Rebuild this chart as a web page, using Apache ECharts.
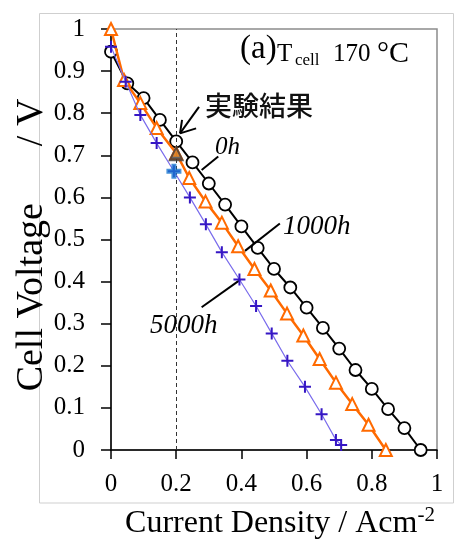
<!DOCTYPE html>
<html style="height: 100%">
<head>
    <meta charset="utf-8">
    <title>Cell Voltage</title>
</head>
<body style="height: 100%; margin: 0;">
<div id="container" style="width: 455px; height: 539px"></div>
<script type="text/javascript" src="https://cdn.jsdelivr.net/npm/echarts@6/dist/echarts.min.js"></script>
<script type="text/javascript">

    // 0h (black circles)
    var h0X = [0, 0.05, 0.1, 0.15, 0.2, 0.25, 0.3, 0.35, 0.4, 0.45, 0.5, 0.55, 0.6, 0.65, 0.7, 0.75, 0.8, 0.85, 0.9, 0.95];
    var h0Y = [0.946, 0.871, 0.836, 0.784, 0.733, 0.683, 0.633, 0.583, 0.531, 0.48, 0.43, 0.386, 0.338, 0.29, 0.241, 0.19, 0.145, 0.097, 0.052, 0.0];
    // 1000h (orange triangles)
    var h1000X = [0, 0.04, 0.09, 0.14, 0.2, 0.24, 0.29, 0.34, 0.39, 0.44, 0.49, 0.54, 0.59, 0.64, 0.69, 0.74, 0.79, 0.843];
    var h1000Y = [1.0, 0.879, 0.824, 0.765, 0.705, 0.646, 0.59, 0.54, 0.484, 0.43, 0.379, 0.324, 0.272, 0.216, 0.16, 0.109, 0.06, 0.0];
    // 5000h (blue crosses)
    var h5000X = [0, 0.045, 0.09, 0.14, 0.193, 0.242, 0.291, 0.34, 0.394, 0.445, 0.493, 0.541, 0.595, 0.646, 0.69, 0.706];
    var h5000Y = [0.958, 0.875, 0.796, 0.729, 0.662, 0.6, 0.536, 0.47, 0.405, 0.342, 0.277, 0.212, 0.15, 0.085, 0.024, 0.012];
    // highlighted experimental points
    var expTri = [0.2, 0.705];
    var expPlus = [0.193, 0.662];
    var refX = 0.2;

    var xTicks = [0, 0.2, 0.4, 0.6, 0.8, 1];
    var yTicks = [0, 0.1, 0.2, 0.3, 0.4, 0.5, 0.6, 0.7, 0.8, 0.9, 1];

    function pairs(xs, ys) {
        var out = [];
        for (var i = 0; i < xs.length; i++) {
            out.push([xs[i], ys[i]]);
        }
        return out;
    }

    var serif = "'Liberation Serif', 'DejaVu Serif', serif";
    var plusPath = 'path://M5,0H7V5H12V7H7V12H5V7H0V5H5Z';
    var bigPlus = 'path://M4,0H8V4H12V8H8V12H4V8H0V4H4Z';

    var dom = document.getElementById("container");
    var myChart = echarts.init(dom);

    function seg(a, b) {
        return [{coord: a}, {coord: b}];
    }

    var option = {
        backgroundColor: '#fff',
        animation: false,
        grid: {
            left: 111,
            right: 18,
            top: 29,
            bottom: 89,
            outerBoundsMode: 'none',
            containLabel: false,
            show: true,
            borderColor: '#8c8c8c',
            borderWidth: 1.5
        },
        xAxis: {
            type: 'value',
            min: xTicks[0],
            max: xTicks[xTicks.length - 1],
            interval: 0.2,
            name: 'Current Density / Acm{sup|-2}',
            nameLocation: 'middle',
            nameGap: 55,
            nameTextStyle: {
                fontFamily: serif,
                fontSize: 32,
                color: '#000',
                padding: [0, 0, 0, 12],
                rich: {
                    sup: {fontFamily: serif, fontSize: 21, color: '#000', verticalAlign: 'top', padding: [0, 0, 16, 0]}
                }
            },
            axisLine: {lineStyle: {color: '#000', width: 1.5}},
            axisTick: {length: 9, lineStyle: {color: '#000', width: 1.5}},
            axisLabel: {fontFamily: serif, fontSize: 25, color: '#000', margin: 22},
            splitLine: {show: false}
        },
        yAxis: {
            type: 'value',
            min: yTicks[0],
            max: yTicks[yTicks.length - 1],
            interval: 0.1,
            axisLine: {lineStyle: {color: '#000', width: 1.5}},
            axisTick: {length: 10, lineStyle: {color: '#000', width: 1.5}},
            axisLabel: {fontFamily: serif, fontSize: 25, color: '#000', margin: 26},
            splitLine: {show: false}
        },
        series: [
            {
                name: '0h',
                type: 'line',
                data: pairs(h0X, h0Y),
                symbol: 'circle',
                symbolSize: 12,
                lineStyle: {color: '#000', width: 2},
                itemStyle: {color: '#fff', borderColor: '#000', borderWidth: 1.8},
                markLine: {
                    silent: true,
                    symbol: 'none',
                    label: {show: false},
                    lineStyle: {color: '#000', width: 2, type: 'solid'},
                    data: [
                        seg([0.278, 0.665], [0.329, 0.697]),
                        seg([0.411, 0.473], [0.518, 0.538]),
                        seg([0.278, 0.339], [0.396, 0.404]),
                        seg([0.2117, 0.752], [0.27, 0.815]),
                        seg([0.2117, 0.752], [0.218, 0.784]),
                        seg([0.2117, 0.752], [0.261, 0.764])
                    ]
                },
                z: 3
            },
            {
                name: '1000h',
                type: 'line',
                data: pairs(h1000X, h1000Y),
                symbol: 'triangle',
                symbolSize: 12,
                lineStyle: {color: '#ff6a00', width: 2.5},
                itemStyle: {color: '#fff', borderColor: '#ff6a00', borderWidth: 2},
                z: 4
            },
            {
                name: '5000h',
                type: 'line',
                data: pairs(h5000X, h5000Y),
                symbol: plusPath,
                symbolSize: 12,
                lineStyle: {color: '#7a6cec', width: 1.2},
                itemStyle: {color: '#3516c4', borderWidth: 0},
                markLine: {
                    silent: true,
                    symbol: 'none',
                    label: {show: false},
                    lineStyle: {color: '#333', width: 1, type: [4, 3]},
                    data: [{xAxis: refX}]
                },
                z: 5
            },
            {
                type: 'scatter',
                data: [expTri],
                symbol: 'triangle',
                symbolSize: 16,
                itemStyle: {color: '#3f3f3f'},
                z: 6
            },
            {
                type: 'scatter',
                data: [expTri],
                symbol: 'triangle',
                symbolSize: 7,
                itemStyle: {color: '#ff8c1a'},
                z: 7
            },
            {
                type: 'scatter',
                data: [expPlus],
                symbol: bigPlus,
                symbolSize: 15,
                itemStyle: {color: '#1a78d0'},
                z: 7
            }
        ],
        graphic: [
            {
                type: 'rect',
                shape: {x: 39.5, y: 13.5, width: 414, height: 489.5},
                style: {fill: 'none', stroke: '#cfcfcf', lineWidth: 1},
                silent: true,
                z: -1
            },
            {
                type: 'text', x: 32, y: 245, rotation: Math.PI / 2,
                style: {text: 'Cell Voltage      / V', font: '38px ' + serif, fill: '#000', align: 'center', verticalAlign: 'middle'}
            },
            {type: 'text', x: 240, y: 49, style: {text: '(a)', font: '33px ' + serif, fill: '#000', verticalAlign: 'middle'}},
            {type: 'text', x: 277, y: 54, style: {text: 'T', font: '25px ' + serif, fill: '#000', verticalAlign: 'middle'}},
            {type: 'text', x: 295, y: 61, style: {text: 'cell', font: '17px ' + serif, fill: '#000', verticalAlign: 'middle'}},
            {type: 'text', x: 333, y: 54, style: {text: '170', font: '25px ' + serif, fill: '#000', verticalAlign: 'middle'}},
            {type: 'text', x: 377, y: 54, style: {text: '°C', font: '30px ' + serif, fill: '#000', verticalAlign: 'middle'}},
            {type: 'text', x: 205, y: 106, style: {text: '実験結果', font: "500 27px 'Noto Sans CJK JP'", fill: '#111', verticalAlign: 'middle'}},
            {type: 'text', x: 215, y: 147, style: {text: '0h', font: 'italic 25px ' + serif, fill: '#000', verticalAlign: 'middle'}},
            {type: 'text', x: 283, y: 227, style: {text: '1000h', font: 'italic 27px ' + serif, fill: '#000', verticalAlign: 'middle'}},
            {type: 'text', x: 150, y: 326, style: {text: '5000h', font: 'italic 27px ' + serif, fill: '#000', verticalAlign: 'middle'}}
        ]
    };

    myChart.setOption(option, true);

</script>
</body>
</html>
